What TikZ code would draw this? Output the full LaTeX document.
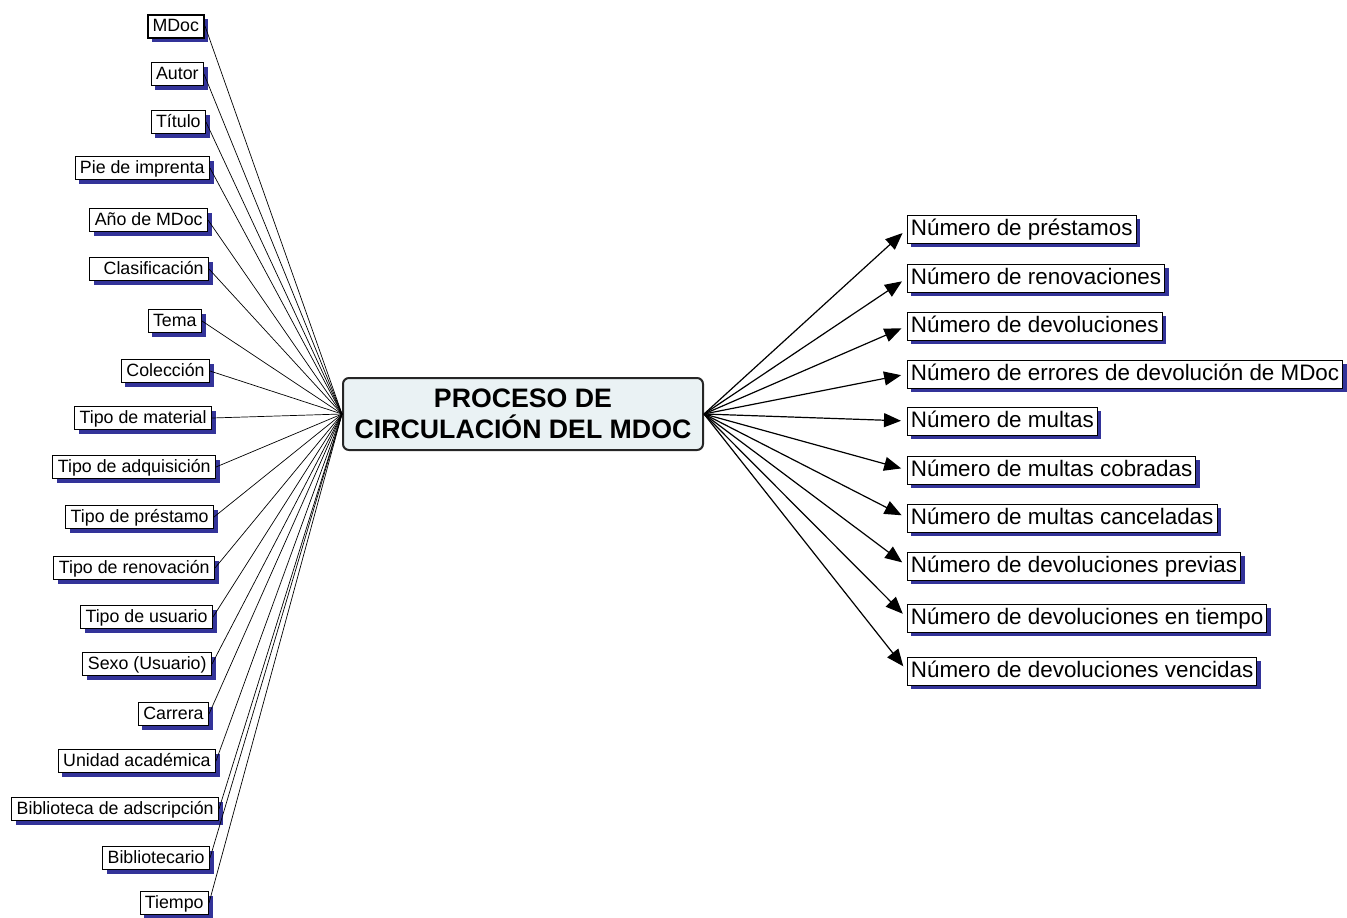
\documentclass[tikz,border=0pt]{standalone}
\usepackage{fontspec}
\setmainfont{Liberation Sans}
\usetikzlibrary{arrows.meta,shadows}
\definecolor{shadowblue}{RGB}{51,51,153}
\definecolor{hubfill}{RGB}{234,242,244}
\begin{document}
\begin{tikzpicture}[x=1pt,y=-1pt,
  leaf/.style={draw=black,line width=0.8pt,fill=white,anchor=east,
    font=\fontsize{17.8}{20}\selectfont,inner xsep=5pt,inner ysep=0pt,
    minimum height=23pt,text height=14pt,text depth=3pt,
    general shadow={fill=shadowblue,shadow xshift=4pt,shadow yshift=-4pt}},
  metric/.style={draw=black,line width=0.8pt,fill=white,anchor=west,
    font=\fontsize{22.4}{24}\selectfont,inner xsep=3.5pt,inner ysep=0pt,
    minimum height=28pt,text height=17pt,text depth=4pt,
    general shadow={fill=shadowblue,shadow xshift=4pt,shadow yshift=-4pt}},
  hub/.style={draw=black!85,line width=2pt,fill=hubfill,rounded corners=6pt,
    font=\fontsize{26.7}{31}\selectfont\bfseries,align=center,
    minimum width=360pt,minimum height=72pt,inner sep=0pt},
  spoke/.style={line width=0.7pt},
  ray/.style={line width=1.2pt,-{Triangle[length=17pt,width=14pt]},shorten >=6pt}
]
\useasboundingbox (0,0) rectangle (1347,918);

% central concept
\node[hub] (hub) at (523,414) {PROCESO DE\\CIRCULACIÓN DEL MDOC};

% dimensions on the left
\node[leaf,line width=2pt] (l1) at (205,26) {MDoc};
\node[leaf] (l2)  at (204,74)  {Autor};
\node[leaf] (l3)  at (206,122) {Título};
\node[leaf] (l4)  at (210,168) {Pie de imprenta};
\node[leaf] (l5)  at (208,220) {Año de MDoc};
\node[leaf] (l6)  at (209,269) {\hspace*{9pt}Clasificación};
\node[leaf] (l7)  at (202,321) {Tema};
\node[leaf] (l8)  at (210,371) {Colección};
\node[leaf] (l9)  at (212,418) {Tipo de material};
\node[leaf] (l10) at (216,467) {Tipo de adquisición};
\node[leaf] (l11) at (214,517) {Tipo de préstamo};
\node[leaf] (l12) at (215,568) {Tipo de renovación};
\node[leaf] (l13) at (213,617) {Tipo de usuario};
\node[leaf] (l14) at (212,664) {Sexo (Usuario)};
\node[leaf] (l15) at (209,714) {Carrera};
\node[leaf] (l16) at (216,761) {Unidad académica};
\node[leaf] (l17) at (219,809) {Biblioteca de adscripción};
\node[leaf] (l18) at (210,858) {Bibliotecario};
\node[leaf] (l19) at (209,903) {Tiempo};

\foreach \i in {1,...,19}
  \draw[spoke] (l\i.east) -- (hub.west);

% measures on the right
\node[metric] (r1)  at (907,229) {Número de préstamos};
\node[metric] (r2)  at (907,278) {Número de renovaciones};
\node[metric] (r3)  at (907,326) {Número de devoluciones};
\node[metric] (r4)  at (907,374) {Número de errores de devolución de MDoc};
\node[metric] (r5)  at (907,421) {Número de multas};
\node[metric] (r6)  at (907,470) {Número de multas cobradas};
\node[metric] (r7)  at (907,518) {Número de multas canceladas};
\node[metric] (r8)  at (907,566) {Número de devoluciones previas};
\node[metric] (r9)  at (907,618) {Número de devoluciones en tiempo};
\node[metric] (r10) at (907,671) {Número de devoluciones vencidas};

\foreach \i in {1,...,10}
  \draw[ray] (hub.east) -- (r\i.west);
\end{tikzpicture}
\end{document}
